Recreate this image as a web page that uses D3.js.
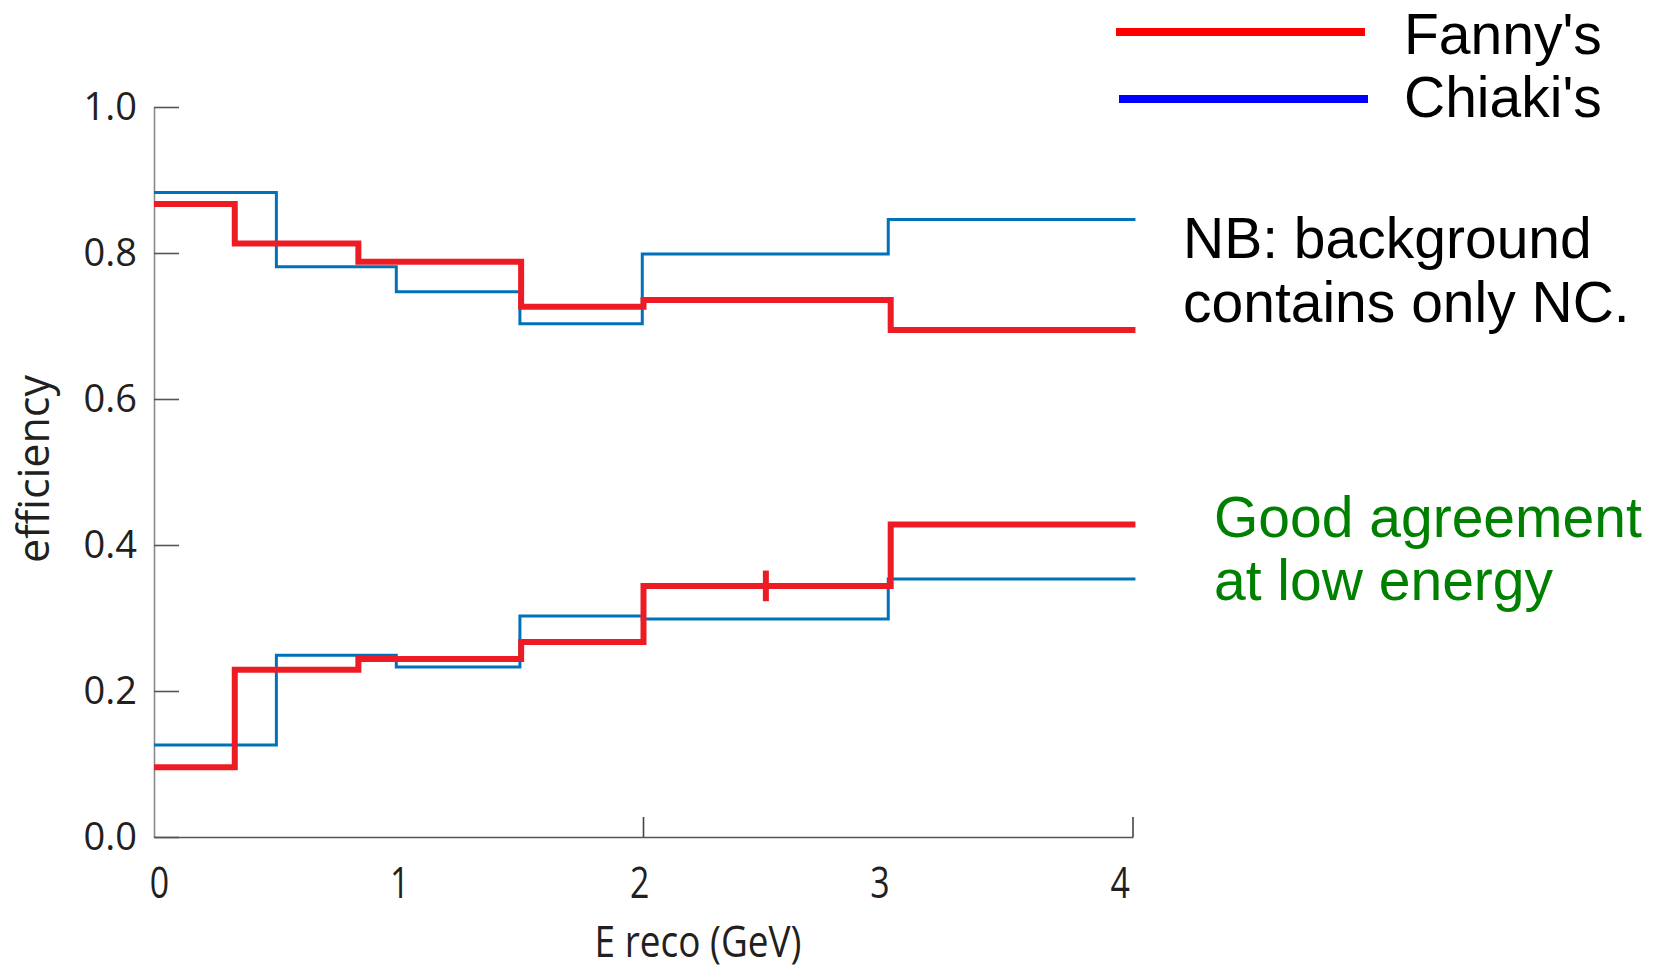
<!DOCTYPE html>
<html><head><meta charset="utf-8">
<script src="https://cdn.jsdelivr.net/npm/d3@7"></script>
<style>body{margin:0;background:#fff;} svg{display:block}</style>
</head><body>
<svg id="chart" width="1658" height="971"></svg>
<script>
// ---- data ----
const xTicks = [0, 1, 2, 3, 4];
const xMarkedTicks = [2, 4];
const yTicks = [0, 0.2, 0.4, 0.6, 0.8, 1.0];
const fannyEdges  = [0, 0.33, 0.835, 1.5, 2.0, 3.01, 4.01];
const chiakiEdges = [0, 0.5, 0.99, 1.495, 1.995, 3.0, 4.01];
const fannyUpper  = [0.867, 0.813, 0.788, 0.7265, 0.7356, 0.6945];
const chiakiUpper = [0.883, 0.781, 0.747, 0.703, 0.7986, 0.846];
const fannyLower  = [0.0955, 0.229, 0.244, 0.267, 0.344, 0.428];
const chiakiLower = [0.126, 0.249, 0.233, 0.3027, 0.2986, 0.3534];
const errX = [2.5];
const errVal = [0.344];
const errHalf = [0.021];
const legendNames = ["Fanny's", "Chiaki's"];
const legendColors = ["#ff0000", "#0000ff"];
const noteLines = ["NB: background", "contains only NC."];
const greenLines = ["Good agreement", "at low energy"];

// ---- layout ----
const svg = d3.select("#chart");
const x = d3.scaleLinear().domain([0, 4]).range([154, 1133]);
const y = d3.scaleLinear().domain([0, 1]).range([837, 107]);
const RED = "#ed1c24", BLUE = "#0072bc", TXT = "#231f20";
const axisFont = "'Open Sans', 'Noto Sans', sans-serif";
const noteFont = "'Liberation Sans', Arial, sans-serif";

// y axis
const yAxis = svg.append("g").attr("transform", `translate(${x(0)},0)`)
  .call(d3.axisLeft(y).tickValues(yTicks).tickFormat(d3.format(".1f"))
        .tickSize(-25).tickSizeOuter(0).tickPadding(17));
yAxis.select(".domain").attr("stroke", "#8a8a8a").attr("stroke-width", 1.6);
yAxis.selectAll(".tick line").attr("stroke", "#555").attr("stroke-width", 1.6);
yAxis.selectAll(".tick text").attr("font-family", axisFont).attr("font-size", 38)
  .attr("fill", TXT);

// x axis
const xAxis = svg.append("g").attr("transform", `translate(0,${y(0)})`)
  .call(d3.axisBottom(x).tickValues(xTicks).tickFormat(d3.format("d"))
        .tickSize(0).tickSizeOuter(0).tickPadding(30));
xAxis.select(".domain").attr("stroke", "#555").attr("stroke-width", 1.6);
xAxis.selectAll(".tick text").attr("font-family", axisFont).attr("font-size", 44)
  .attr("fill", TXT)
  .attr("transform", d => `translate(${5 - 4.6 * d},0) scale(0.77,1)`);
svg.append("g").selectAll("line").data(xMarkedTicks).join("line")
  .attr("x1", d => x(d)).attr("x2", d => x(d))
  .attr("y1", y(0)).attr("y2", y(0) - 20)
  .attr("stroke", "#444").attr("stroke-width", 1.6);

// axis titles
svg.append("text").attr("transform", "translate(698,957) scale(0.84,1)")
  .attr("text-anchor", "middle").attr("font-family", axisFont).attr("font-size", 44)
  .attr("fill", TXT).text("E reco (GeV)");
svg.append("text").attr("transform", "translate(49,469) rotate(-90)")
  .attr("text-anchor", "middle").attr("font-family", axisFont).attr("font-size", 43)
  .attr("fill", TXT).text("efficiency");

// step lines
const stepLine = d3.line().x(d => x(d[0])).y(d => y(d[1])).curve(d3.curveStepAfter);
function stepPts(edges, vals) {
  const pts = vals.map((v, i) => [edges[i], v]);
  pts.push([edges[edges.length - 1], vals[vals.length - 1]]);
  return pts;
}
const series = [
  {edges: chiakiEdges, vals: chiakiUpper, color: BLUE, w: 3},
  {edges: chiakiEdges, vals: chiakiLower, color: BLUE, w: 3},
  {edges: fannyEdges, vals: fannyUpper, color: RED, w: 6},
  {edges: fannyEdges, vals: fannyLower, color: RED, w: 6}
];
svg.append("g").selectAll("path").data(series).join("path")
  .attr("d", s => stepLine(stepPts(s.edges, s.vals)))
  .attr("fill", "none").attr("stroke", s => s.color).attr("stroke-width", s => s.w)
  .attr("stroke-linejoin", "miter").attr("stroke-linecap", "butt");

// error bar
svg.append("g").selectAll("line").data(errX).join("line")
  .attr("x1", d => x(d)).attr("x2", d => x(d))
  .attr("y1", (d, i) => y(errVal[i] + errHalf[i]))
  .attr("y2", (d, i) => y(errVal[i] - errHalf[i]))
  .attr("stroke", RED).attr("stroke-width", 6);

// legend
const leg = svg.append("g");
leg.selectAll("line").data(legendNames).join("line")
  .attr("x1", (d, i) => 1116 + i * 3).attr("x2", (d, i) => 1365 + i * 3)
  .attr("y1", (d, i) => 32 + i * 67).attr("y2", (d, i) => 32 + i * 67)
  .attr("stroke", (d, i) => legendColors[i]).attr("stroke-width", 8);
leg.selectAll("text").data(legendNames).join("text")
  .attr("x", 1404).attr("y", (d, i) => 54 + i * 63)
  .attr("font-family", noteFont).attr("font-size", 57).attr("fill", "#000")
  .text(d => d);

// notes
svg.append("g").selectAll("text").data(noteLines).join("text")
  .attr("x", 1183).attr("y", (d, i) => 258 + i * 64)
  .attr("font-family", noteFont).attr("font-size", 57).attr("fill", "#000")
  .text(d => d);
svg.append("g").selectAll("text").data(greenLines).join("text")
  .attr("x", 1214).attr("y", (d, i) => 537 + i * 63)
  .attr("font-family", noteFont).attr("font-size", 57).attr("fill", "#008000")
  .text(d => d);
</script>
</body></html>
